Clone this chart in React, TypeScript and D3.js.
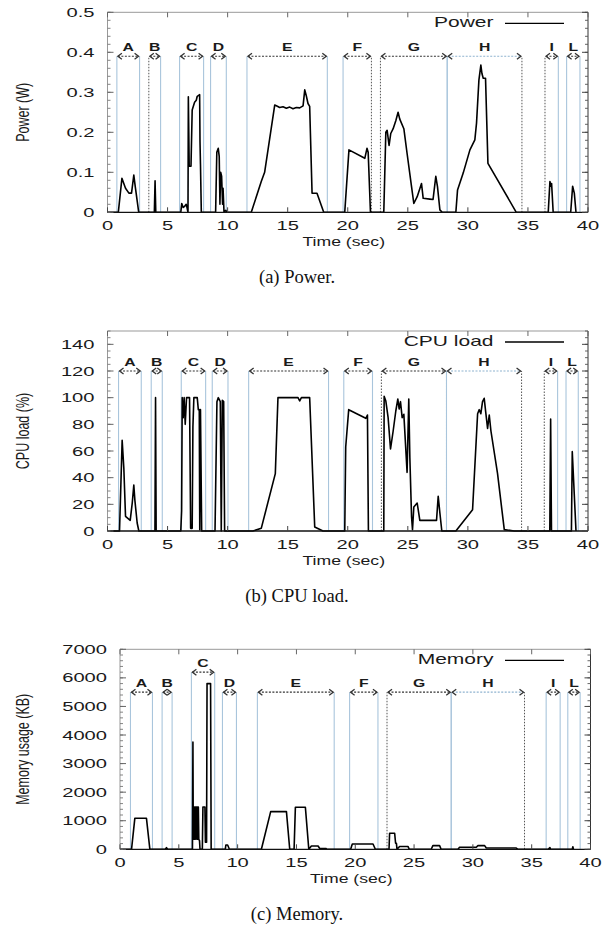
import React from 'react';
import * as d3 from 'd3';

type Pt = [number, number];

// ---------- DATA ----------
const segmentNames = ['A', 'B', 'C', 'D', 'E', 'F', 'G', 'H', 'I', 'L'];

const powerSegments: Pt[] = [[0.78, 2.67], [3.44, 4.42], [6.0, 8.0], [8.58, 9.89], [11.61, 18.3], [19.61, 21.97], [22.72, 28.28], [28.28, 34.5], [36.42, 37.53], [38.22, 39.33]];
const cpuSegments: Pt[] = [[0.92, 2.81], [3.64, 4.56], [6.14, 8.17], [8.72, 10.03], [11.75, 18.4], [19.67, 22.06], [22.8, 28.22], [28.22, 34.47], [36.36, 37.47], [38.17, 39.19]];
const memorySegments: Pt[] = [[0.89, 2.76], [3.58, 4.43], [6.07, 8.05], [8.71, 9.9], [11.68, 18.21], [19.52, 21.93], [22.7, 28.16], [28.16, 34.39], [36.23, 37.42], [38.07, 39.12]];

const powerData: Pt[] = [
  [0, 0], [0.9, 0], [1.2, 0.085], [1.5, 0.06], [1.78, 0.048], [2.0, 0.048], [2.19, 0.093], [2.33, 0.06], [2.6, 0],
  [3.9, 0], [3.96, 0.079], [4.02, 0],
  [6.1, 0], [6.18, 0.022], [6.3, 0.012], [6.42, 0.015], [6.55, 0.02], [6.62, 0.012], [6.7, 0], [6.73, 0.289], [6.8, 0.115], [6.95, 0.115], [7.05, 0.256], [7.25, 0.275], [7.39, 0.28], [7.47, 0.29], [7.67, 0.294], [7.7, 0.177], [7.74, 0.12], [7.81, 0],
  [9.0, 0], [9.1, 0.15], [9.22, 0.16], [9.3, 0.14], [9.36, 0.02], [9.42, 0.1], [9.5, 0.09], [9.58, 0.02], [9.62, 0.06], [9.7, 0], [9.85, 0.005], [9.95, 0],
  [11.97, 0], [12.8, 0.077], [13.08, 0.1], [13.92, 0.268], [14.14, 0.265], [14.33, 0.262], [14.61, 0.264], [14.89, 0.26], [15.17, 0.263], [15.44, 0.259], [15.72, 0.262], [16.0, 0.261], [16.28, 0.266], [16.42, 0.306], [16.56, 0.29], [16.69, 0.272], [16.83, 0.265], [17.03, 0.0475], [17.44, 0.0475], [18.0, 0],
  [19.75, 0], [20.1, 0.156], [21.42, 0.135], [21.6, 0.16], [21.7, 0.15], [21.89, 0],
  [23.0, 0], [23.17, 0.2], [23.28, 0.205], [23.44, 0.167], [23.58, 0.197], [23.78, 0.209], [24.0, 0.229], [24.19, 0.25], [24.33, 0.233], [24.67, 0.209], [24.94, 0.147], [25.31, 0.064], [25.5, 0.022], [25.78, 0.039], [26.14, 0.072], [26.28, 0.035], [26.83, 0.033], [27.1, 0.032], [27.33, 0.09], [27.47, 0.064], [27.67, 0.006], [27.86, 0],
  [29.0, 0], [29.14, 0.056], [29.61, 0.098], [30.17, 0.156], [30.58, 0.181], [30.72, 0.223], [30.92, 0.331], [31.08, 0.368], [31.17, 0.347], [31.28, 0.335], [31.47, 0.335], [31.67, 0.1225], [34.03, 0],
  [36.69, 0], [36.83, 0.077], [36.92, 0.065], [36.97, 0.072], [37.1, 0],
  [38.56, 0], [38.72, 0.065], [38.86, 0.048], [39.0, 0],
];

const cpuData: Pt[] = [
  [0, 0], [1.0, 0], [1.22, 68], [1.36, 47], [1.5, 11], [1.89, 8], [2.06, 21], [2.19, 34.5], [2.28, 23], [2.47, 6], [2.61, 0],
  [3.95, 0], [4.0, 100], [4.05, 0],
  [6.1, 0], [6.17, 15], [6.22, 100], [6.3, 85], [6.38, 100], [6.47, 80], [6.58, 100], [6.83, 100], [6.92, 2], [7.05, 2], [7.11, 78], [7.19, 100], [7.47, 100], [7.56, 91], [7.64, 91], [7.68, 1], [7.74, 91], [7.84, 0],
  [8.95, 0], [9.11, 97], [9.22, 100], [9.39, 97], [9.47, 0], [9.56, 98], [9.67, 97], [9.75, 0], [9.9, 0],
  [12.1, 0], [12.8, 2], [13.97, 43], [14.19, 100], [15.86, 100], [16.0, 97.5], [16.14, 100], [16.83, 100], [17.25, 3], [17.94, 0],
  [19.75, 0], [19.83, 63], [20.08, 91], [21.5, 84.5], [21.64, 87], [21.72, 0],
  [23.0, 0], [23.03, 101], [23.17, 97.5], [23.36, 85], [23.56, 61.5], [23.78, 75], [24.0, 90], [24.17, 99], [24.28, 91.5], [24.39, 97], [24.53, 85], [24.67, 87.5], [24.94, 44], [25.08, 99], [25.17, 55], [25.31, 11], [25.39, 1], [25.5, 18], [25.78, 21], [26.0, 8], [27.39, 8], [27.53, 26], [27.67, 13.5], [27.83, 0],
  [29.0, 0], [30.39, 16], [30.81, 88], [30.94, 91], [31.08, 88], [31.22, 97], [31.36, 99.5], [31.5, 88], [31.64, 77], [31.78, 87], [31.92, 75], [32.47, 43], [33.03, 1], [33.86, 0],
  [36.82, 0], [36.89, 84], [36.96, 0],
  [38.62, 0], [38.69, 59.5], [39.0, 0],
];

const memoryData: Pt[] = [
  [0, 0], [0.98, 0], [1.26, 1085], [2.25, 1085], [2.54, 0],
  [3.85, 0], [3.95, 60], [4.05, 0],
  [6.1, 0], [6.16, 0], [6.2, 3750], [6.23, 350], [6.26, 1480], [6.29, 350], [6.32, 1480], [6.35, 350], [6.38, 1480], [6.41, 350], [6.44, 1480], [6.5, 1480], [6.53, 350], [6.56, 1480], [6.59, 350], [6.62, 1480], [6.66, 1480], [6.7, 350], [6.76, 300], [6.8, 0], [7.0, 0], [7.05, 1480], [7.22, 1480], [7.26, 250], [7.36, 250], [7.4, 5800], [7.7, 5800], [7.75, 0],
  [8.95, 0], [9.0, 150], [9.15, 150], [9.3, 0],
  [12.02, 0], [12.81, 1320], [14.15, 1320], [14.43, 0], [14.8, 0], [14.91, 1470], [15.76, 1470], [16.05, 0], [16.27, 117], [16.84, 117], [16.98, 30], [17.5, 30], [17.6, 0],
  [19.61, 0], [19.75, 186], [21.51, 186], [21.71, 0],
  [22.87, 0], [22.92, 560], [23.35, 560], [23.43, 210], [23.5, 210], [23.55, 0], [23.77, 100], [24.48, 100], [24.6, 0], [26.46, 0], [26.6, 130], [27.17, 130], [27.3, 0],
  [28.73, 0], [28.87, 70], [30.29, 70], [30.43, 130], [31.0, 130], [31.14, 45], [33.69, 45], [33.83, 0],
  [36.4, 0], [36.55, 60], [36.6, 0],
  [38.45, 0], [38.5, 90], [38.55, 0],
];

const timeTicks = [0, 5, 10, 15, 20, 25, 30, 35, 40];
const powerTicks = [0, 0.1, 0.2, 0.3, 0.4, 0.5];
const cpuTicks = [0, 20, 40, 60, 80, 100, 120, 140];
const memoryTicks = [0, 1000, 2000, 3000, 4000, 5000, 6000, 7000];
const seriesNames = ['Power', 'CPU load', 'Memory'];
const yTitles = ['Power (W)', 'CPU load (%)', 'Memory usage (KB)'];
const xTitle = 'Time (sec)';
const captions = ['(a) Power.', '(b) CPU load.', '(c) Memory.'];
const arrowLevels = [0.39, 120, 5500];
const memoryArrowC = 6200;

// ---------- DRAWING ----------
const SANS = "'Liberation Sans', Arial, Helvetica, sans-serif";
const SERIF = "'Liberation Serif', 'Times New Roman', serif";
const STRETCH = 1.5;

function SText(props: { x: number; y: number; size: number; sx?: number; anchor?: string; weight?: string; rotate?: number; fill?: string; children: React.ReactNode }) {
  const { x, y, size, sx = STRETCH, anchor = 'start', weight = 'normal', rotate, fill = '#1a1a1a', children } = props;
  const tr = `translate(${x},${y}) scale(${sx},1)${rotate ? ` rotate(${rotate})` : ''}`;
  return (
    <text transform={tr} fontSize={size} textAnchor={anchor as any} fontWeight={weight} fontFamily={SANS} fill={fill}>
      {children}
    </text>
  );
}

type PanelProps = {
  left: number; right: number; top: number; bottom: number;
  data: Pt[]; segments: Pt[]; yMax: number; yTicks: number[]; minorStep: number;
  fmt: (v: number) => string; legend: string; yTitle: string; caption: string;
  arrowLevel: number; cLevel?: number; darkEdges: string[]; lightArrows: string[];
};

function Panel(p: PanelProps) {
  const x = d3.scaleLinear().domain([0, 40]).range([p.left, p.right]);
  const y = d3.scaleLinear().domain([0, p.yMax]).range([p.bottom, p.top]);
  const line = d3.line<Pt>().x(d => x(d[0])).y(d => y(d[1]));
  const minors = d3.range(0, p.yMax + 1e-9, p.minorStep);
  const light = '#a9c5dc';
  const dark = '#555';

  const edges: React.ReactNode[] = [];
  const arrows: React.ReactNode[] = [];
  p.segments.forEach((s, i) => {
    const name = segmentNames[i];
    const level = name === 'C' && p.cLevel !== undefined ? p.cLevel : p.arrowLevel;
    const ya = y(level);
    [0, 1].forEach(k => {
      const key = `${name}${k === 0 ? 'l' : 'r'}`;
      const isDark = p.darkEdges.includes(key);
      edges.push(
        <line key={key} x1={x(s[k])} x2={x(s[k])} y1={y(0)} y2={ya}
          stroke={isDark ? dark : light} strokeWidth={isDark ? 1 : 1.1}
          strokeDasharray={isDark ? '1.5,1.5' : undefined} />
      );
    });
    const x1 = x(s[0]) + 1;
    const x2 = x(s[1]) - 1;
    const col = p.lightArrows.includes(name) ? '#8fb3cf' : '#333';
    arrows.push(
      <g key={'arr' + name}>
        <line x1={x1} x2={x2} y1={ya} y2={ya} stroke={col} strokeWidth={1.1} strokeDasharray="2,1.5" />
        <path d={`M${x1 + 4},${ya - 3}L${x1},${ya}L${x1 + 4},${ya + 3}`} fill="none" stroke="#333" strokeWidth={1.3} />
        <path d={`M${x2 - 4},${ya - 3}L${x2},${ya}L${x2 - 4},${ya + 3}`} fill="none" stroke="#333" strokeWidth={1.3} />
        <SText x={(x1 + x2) / 2} y={ya - 5} size={10.5} anchor="middle" weight="bold">{name}</SText>
      </g>
    );
  });

  const cx = (p.left + p.right) / 2;
  const cy = (p.top + p.bottom) / 2;

  return (
    <g>
      {edges}
      {arrows}
      <path d={line(p.data) || ''} fill="none" stroke="#000" strokeWidth={1.6} strokeLinejoin="round" />
      {/* frame */}
      <line x1={p.left} x2={p.right} y1={p.top} y2={p.top} stroke="#999" strokeWidth={1} />
      <line x1={p.left} x2={p.left} y1={p.top} y2={p.bottom} stroke="#999" strokeWidth={1} />
      <line x1={p.right} x2={p.right} y1={p.top} y2={p.bottom} stroke="#333" strokeWidth={1} />
      <line x1={p.left} x2={p.right} y1={p.bottom} y2={p.bottom} stroke="#111" strokeWidth={1.3} />
      {/* y minor ticks */}
      {minors.map((v, i) => (
        <g key={'mi' + i}>
          <line x1={p.left} x2={p.left + 3} y1={y(v)} y2={y(v)} stroke="#777" strokeWidth={0.9} />
          <line x1={p.right} x2={p.right - 3} y1={y(v)} y2={y(v)} stroke="#555" strokeWidth={0.9} />
        </g>
      ))}
      {p.yTicks.map((v, i) => (
        <g key={'yt' + i}>
          <line x1={p.left} x2={p.left + 6} y1={y(v)} y2={y(v)} stroke="#666" strokeWidth={1} />
          <line x1={p.right} x2={p.right - 6} y1={y(v)} y2={y(v)} stroke="#444" strokeWidth={1} />
          <SText x={p.left - 13} y={y(v) + 4.5} size={13} sx={1.55} anchor="end">{p.fmt(v)}</SText>
        </g>
      ))}
      {timeTicks.map((t, i) => (
        <g key={'xt' + i}>
          <line x1={x(t)} x2={x(t)} y1={p.bottom} y2={p.bottom - 5} stroke="#444" strokeWidth={1} />
          <line x1={x(t)} x2={x(t)} y1={p.top} y2={p.top + 5} stroke="#666" strokeWidth={1} />
          <SText x={x(t)} y={p.bottom + 18} size={13} sx={1.55} anchor="middle">{String(t)}</SText>
        </g>
      ))}
      {/* legend */}
      <SText x={493.5} y={p.top + 15} size={14} anchor="end">{p.legend}</SText>
      <line x1={505} x2={564} y1={p.top + 11} y2={p.top + 11} stroke="#000" strokeWidth={1.3} />
      {/* titles */}
      <SText x={cx - 4} y={p.bottom + 33.5} size={12} sx={1.47}>
        <tspan textAnchor="middle">{xTitle}</tspan>
      </SText>
      <SText x={28.5} y={cy} size={12.5} rotate={-90} anchor="middle">{p.yTitle}</SText>
      <text x={297} y={p.bottom + 70.5} fontFamily={SERIF} fontSize={18.5} textAnchor="middle" fill="#111">{p.caption}</text>
    </g>
  );
}

export default function App() {
  return (
    <svg width={605} height={931} viewBox="0 0 605 931"
      style={{ position: 'absolute', left: 0, top: 0, background: '#fff' }}>
      <rect x={0} y={0} width={605} height={931} fill="#fff" />
      <Panel left={107.5} right={588} top={12.3} bottom={212.3}
        data={powerData} segments={powerSegments} yMax={0.5} yTicks={powerTicks} minorStep={0.02}
        fmt={v => (v === 0 ? '0' : v.toFixed(1))} legend={seriesNames[0]} yTitle={yTitles[0]} caption={captions[0]}
        arrowLevel={arrowLevels[0]} darkEdges={['Bl', 'Fr', 'Gl', 'Hr', 'Il']} lightArrows={['H']} />
      <Panel left={107.5} right={588} top={331} bottom={531}
        data={cpuData} segments={cpuSegments} yMax={150} yTicks={cpuTicks} minorStep={5}
        fmt={v => String(v)} legend={seriesNames[1]} yTitle={yTitles[1]} caption={captions[1]}
        arrowLevel={arrowLevels[1]} darkEdges={['Gl', 'Gr', 'Hr', 'Il']} lightArrows={['H']} />
      <Panel left={120} right={590.5} top={649.3} bottom={849.3}
        data={memoryData} segments={memorySegments} yMax={7000} yTicks={memoryTicks} minorStep={200}
        fmt={v => String(v)} legend={seriesNames[2]} yTitle={yTitles[2]} caption={captions[2]}
        arrowLevel={arrowLevels[2]} cLevel={memoryArrowC} darkEdges={['Gl', 'Hr']} lightArrows={['H']} />
    </svg>
  );
}
